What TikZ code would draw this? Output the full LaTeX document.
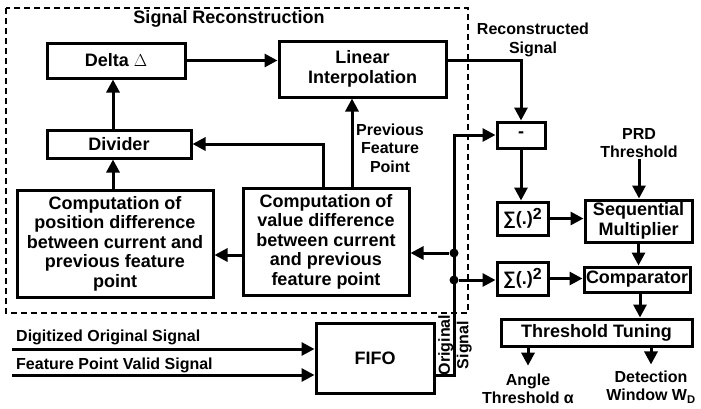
\documentclass[tikz,border=0pt]{standalone}
\usepackage{fontspec}
\setmainfont{Liberation Sans}
\usetikzlibrary{arrows.meta}
\newcommand{\boxfont}{\fontsize{18}{19.5}\selectfont\bfseries}
\newcommand{\lblfont}{\fontsize{16}{18.5}\selectfont\bfseries}
\tikzset{blockbox/.style={
		draw, line width=3pt, align=center, inner sep=0pt, font=\boxfont
}}
\tikzset{flowarrow/.style={
		line width=3pt, -{Triangle[length=13pt,width=13pt]}
}}
\tikzset{sigtext/.style={
		align=center, inner sep=1pt, font=\lblfont
}}
\tikzset{junction/.style={
		circle, fill=black, inner sep=0pt, minimum size=9pt
}}

\begin{document}
\begin{tikzpicture}[x=1pt,y=-1pt]
  \useasboundingbox (0,0) rectangle (701,408);
  \draw[line width=2pt, dash pattern=on 6pt off 4pt] (6,8) rectangle (468,313);
  \node[sigtext, font=\boxfont] (title) at (229,19) {Signal Reconstruction};

  \node[blockbox, minimum width=138pt, minimum height=35pt] (delta) at (116,60.5) {Delta $\Delta$};
  \node[blockbox, minimum width=167pt, minimum height=56pt] (interp) at (362.5,69) {Linear\\Interpolation};
  \node[blockbox, minimum width=144pt, minimum height=28pt] (divider) at (119,144) {Divider};
  \node[blockbox, minimum width=196pt, minimum height=107pt] (posdiff) at (115,243.5) {Computation of\\position difference\\between current and\\previous feature\\point};
  \node[blockbox, minimum width=166pt, minimum height=107pt] (valdiff) at (326,241.5) {Computation of\\value difference\\between current\\and previous\\feature point};
  \node[blockbox, minimum width=48pt, minimum height=26pt] (minus) at (521,135) {-};
  \node[blockbox, minimum width=51pt, minimum height=33pt] (sqa) at (522.5,218.5) {∑(.)\raisebox{5pt}{\fontsize{16}{16}\selectfont 2}};
  \node[blockbox, minimum width=51pt, minimum height=33pt] (sqb) at (522.5,278.5) {∑(.)\raisebox{5pt}{\fontsize{16}{16}\selectfont 2}};
  \node[blockbox, minimum width=107pt, minimum height=42pt] (seqmul) at (638.5,221) {Sequential\\Multiplier};
  \node[blockbox, minimum width=106pt, minimum height=25pt] (comp) at (637,279.5) {Comparator};
  \node[blockbox, minimum width=191pt, minimum height=27pt] (tune) at (596.5,332.5) {Threshold Tuning};
  \node[blockbox, minimum width=118pt, minimum height=70pt] (fifo) at (375,358) {FIFO};

  \node[sigtext] (prev) at (390,148) {Previous\\Feature\\Point};
  \node[sigtext] (recon) at (533,40) {Reconstructed\\Signal};
  \node[sigtext] (prd) at (639,143) {PRD\\Threshold};
  \node[sigtext] (angle) at (528,389) {Angle\\Threshold α};
  \node[sigtext] (window) at (651,387) {Detection\\Window W\textsubscript{D}};
  \node[sigtext, rotate=90] (orig) at (455,345) {Original\\Signal};
  \node[sigtext, anchor=west] (digit) at (15,337) {Digitized Original Signal};
  \node[sigtext, anchor=west] (valid) at (15,365) {Feature Point Valid Signal};

  \coordinate (inA) at (12,349);
  \coordinate (inB) at (12,375);
  \node[junction] (ja) at (454,253) {};
  \node[junction] (jb) at (454,280) {};

  % reconstruction loop
  \draw[flowarrow] (delta.east) -- (interp.west |- delta.east);
  \draw[flowarrow] ([xshift=-6pt]divider.north) -- ([xshift=-6pt]divider.north |- delta.south);
  \draw[flowarrow] ([xshift=-2pt]posdiff.north) -- ([xshift=-2pt]posdiff.north |- divider.south);
  \draw[flowarrow] ([yshift=-13.5pt]valdiff.west) -- (posdiff.east |- 0,255);
  \draw[flowarrow] ([xshift=-3pt]valdiff.north) |- (divider.east);
  \draw[flowarrow] ([xshift=26pt]valdiff.north) -- ([xshift=26pt]valdiff.north |- interp.south);
  \draw[flowarrow] ([yshift=9pt]interp.east) -| (minus.north);

  % original signal path
  \draw[flowarrow] (inA) -- (fifo.west |- inA);
  \draw[flowarrow] (inB) -- (fifo.west |- inB);
  \draw[flowarrow] ([yshift=-17pt]fifo.east) -| (ja.center) |- (minus.west);
  \draw[flowarrow] (ja) -- (valdiff.east |- ja);
  \draw[flowarrow] (jb) -- (sqb.west |- jb);

  % detection
  \draw[flowarrow] (minus.south) -- (sqa.north -| minus.south);
  \draw[flowarrow] (sqa.east) -- (seqmul.west |- sqa.east);
  \draw[flowarrow] (prd.south) -- (seqmul.north -| prd.south);
  \draw[flowarrow] (seqmul.south) -- (seqmul.south |- comp.north);
  \draw[flowarrow] (sqb.east) -- (comp.west |- sqb.east);
  \draw[flowarrow] ([xshift=3pt]comp.south) -- ([xshift=3pt]comp.south |- tune.north);
  \draw[flowarrow] (angle.north |- tune.south) -- ([yshift=7pt]angle.north);
  \draw[flowarrow] (window.north |- tune.south) -- ([yshift=5pt]window.north);
\end{tikzpicture}
\end{document}
